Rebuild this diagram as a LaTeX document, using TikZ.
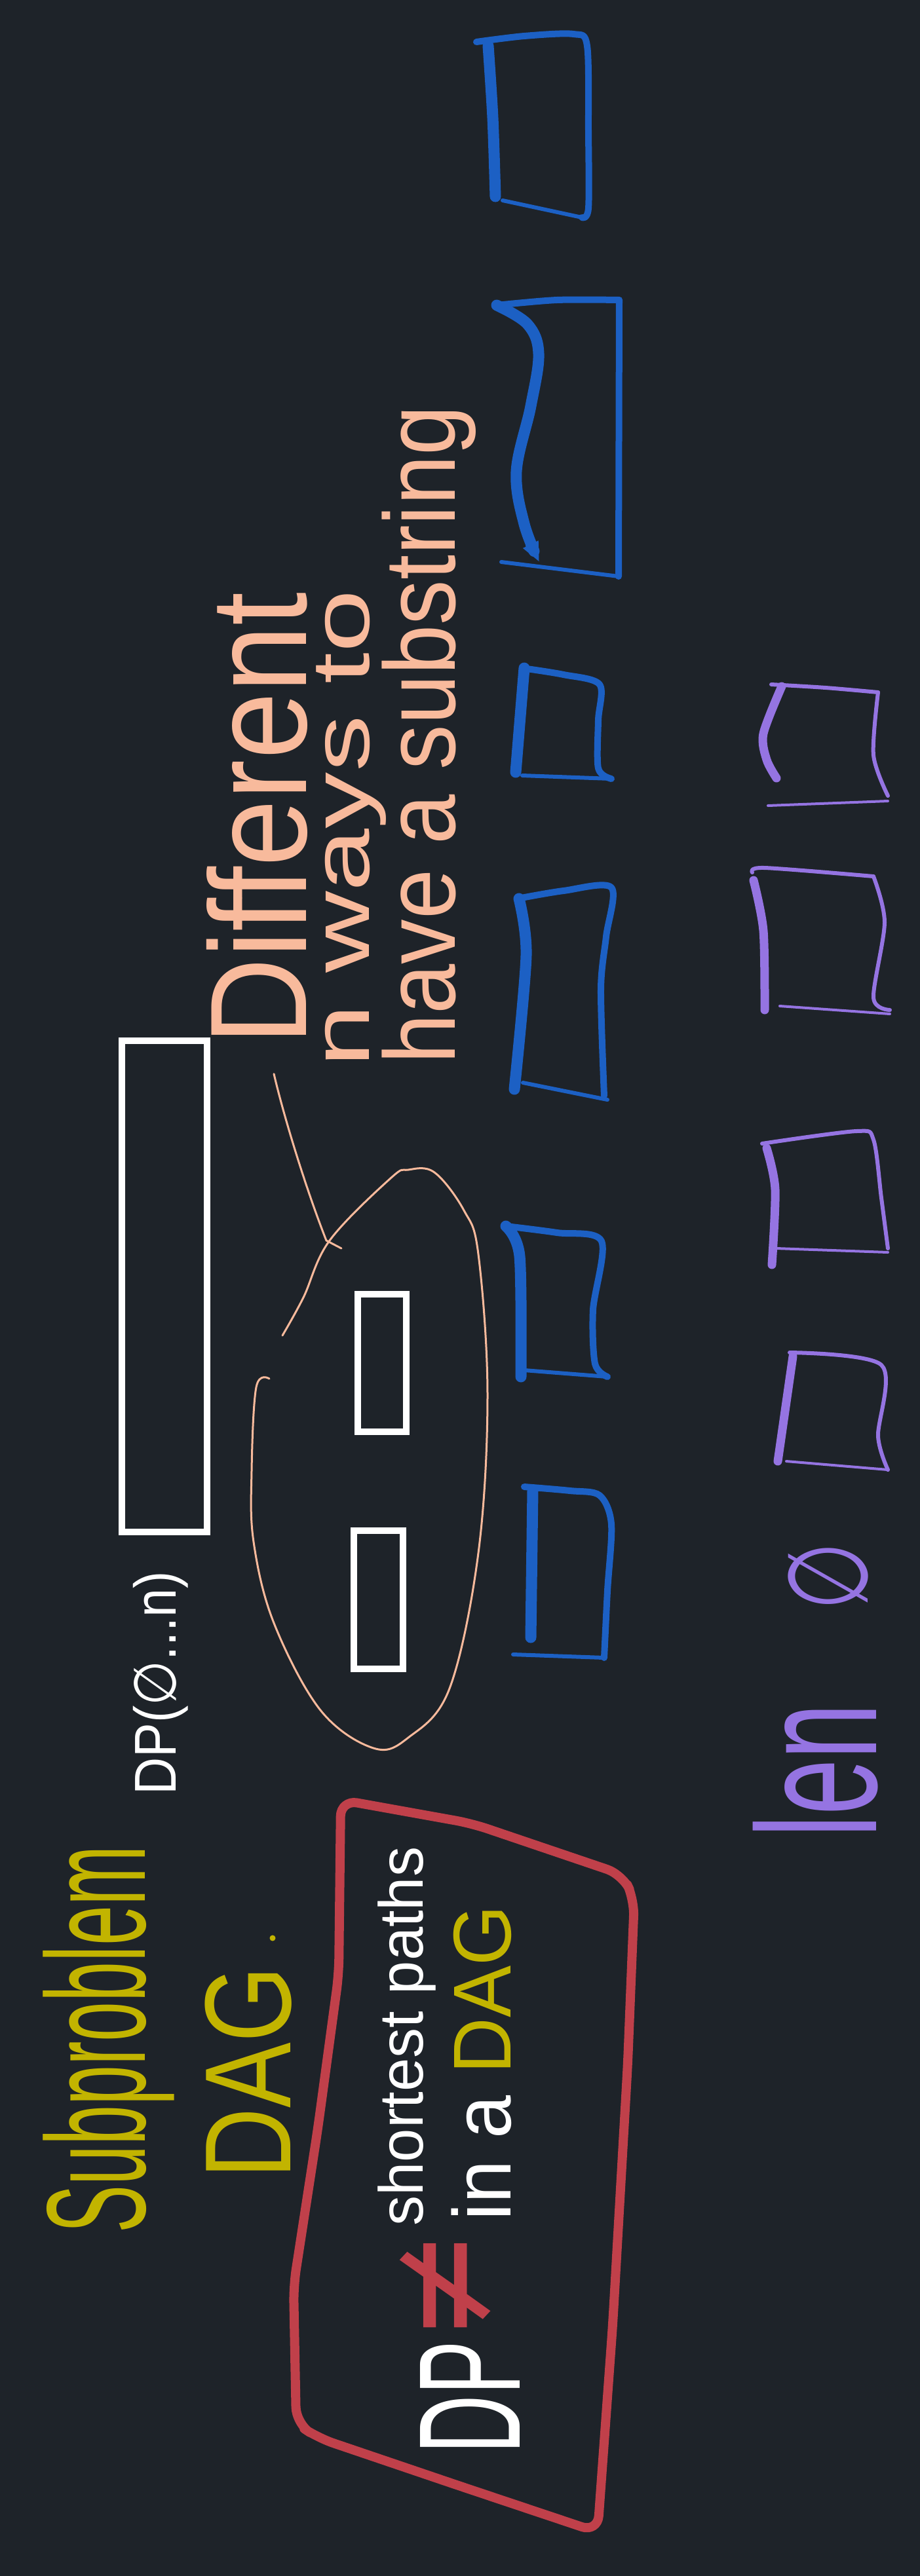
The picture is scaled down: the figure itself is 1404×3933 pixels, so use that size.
\documentclass[tikz,border=0pt]{standalone}
\usepackage{fontspec}
\setmainfont{Liberation Sans}
\newfontfamily\dejavu{DejaVu Sans}
\usetikzlibrary{arrows.meta}
\definecolor{bg}{HTML}{1E2329}
\definecolor{hyellow}{HTML}{C2B400}
\definecolor{hred}{HTML}{C0404A}
\definecolor{salmon}{HTML}{F8BA9C}
\definecolor{hblue}{HTML}{1C60C4}
\definecolor{hpurple}{HTML}{9574E2}
\begin{document}
\begin{tikzpicture}[x=1pt,y=-1pt,
  txt/.style={inner sep=0pt, outer sep=0pt, rotate=90, anchor=center},
  fs/.style={font=\fontsize{#1}{#1}\selectfont},
  fsd/.style={font=\dejavu\fontsize{#1}{#1}\selectfont},
  wbox/.style={draw=white, line width=10pt, inner sep=0pt, outer sep=0pt, rectangle},
  bthick/.style={draw=hblue, line width=17pt, line cap=round, line join=round},
  bmid/.style={draw=hblue, line width=10pt, line cap=round, line join=round},
  bthin/.style={draw=hblue, line width=6pt, line cap=round, line join=round},
  pthick/.style={draw=hpurple, line width=13pt, line cap=round, line join=round},
  pmid/.style={draw=hpurple, line width=6pt, line cap=round, line join=round},
  pthin/.style={draw=hpurple, line width=4pt, line cap=round, line join=round},
  redbox/.style={draw=hred, line width=14pt, line cap=round, line join=round, rounded corners=25pt},
  salm/.style={draw=salmon, line width=3pt, line cap=round, line join=round}
]
\fill[bg] (0,0) rectangle (1404,3933);
\useasboundingbox (0,0) rectangle (1404,3933);

% ---------- yellow title ----------
\node[txt, text=hyellow, fs=215, xscale=.51] (subp) at (166,3114) {Subproblem};
\node[txt, text=hyellow, fs=187, xscale=.8] (dagA) at (379,3164) {DAG};
\node[circle, fill=hyellow, inner sep=0pt, minimum size=9pt] (dagdot) at (416,2959) {};

% ---------- red box ----------
\draw[redbox] (720,2784) -- (950,2862) -- (968,2900) -- (958,3150)
  -- (935,3550) -- (912,3866) -- (700,3795) -- (485,3722) -- (452,3700)
  -- (448,3490) -- (485,3250) -- (517,3014) -- (520,2748) -- cycle;
\node[txt, text=white, fs=221, xscale=.56] (dp) at (717,3660) {DP};
\node[txt, text=hred, fsd=205, yscale=1.15] (neq) at (682,3490) {≠};
\node[txt, text=white, fs=95, xscale=.97] (sp) at (621,3109) {shortest paths};
\node[txt, text=white, fs=125, xscale=.95] (inadag) at (735,3150) {in a \textcolor{hyellow}{DAG}};

% ---------- white rectangles ----------
\node[wbox, minimum width=130pt, minimum height=750pt] (bigrect) at (250.5,1963.5) {};
\node[txt, text=white, fs=90, xscale=.88] (dpn) at (245,2570) {DP({\dejavu ∅}...n)};
\node[wbox, minimum width=74pt, minimum height=210pt] (small1) at (583,2081) {};
\node[wbox, minimum width=75pt, minimum height=211pt] (small2) at (577.5,2442.5) {};

% ---------- salmon blob and note ----------
\draw[salm] plot[smooth, tension=0.6] coordinates {(411,2105) (391,2118) (384,2246) (387,2354) (418,2478) (489,2611) (570,2669) (623,2653) (686,2578) (730,2371) (744,2130) (730,1915) (708,1848) (663,1790) (623,1786) (596,1799) (503,1894) (463,1981) (431,2039)};
\coordinate (blobtop) at (498,1894);
\node[txt, text=salmon, fs=210, xscale=.875] (diff) at (392,1250) {Different};
\node[txt, text=salmon, fs=125, xscale=1.38] (nways) at (536,1265) {n ways to};
\node[txt, text=salmon, fs=154, xscale=.89] (have) at (655,1122) {have a substring};
\draw[salm] ([shift={(26,44)}]diff.west) .. controls (432,1700) and (465,1810) .. (blobtop) -- ++(23,12);

% ---------- blue boxes ----------
\draw[bthick] plot[smooth] coordinates {(745,70) (752,180) (756,300)};
\draw[bmid] plot[smooth, tension=.5] coordinates {(727,64) (800,55) (875,52) (896,70) (898,200) (898,318) (888,332)};
\draw[bthin] (888,332) -- (767,306);

\draw[bmid] plot[smooth, tension=.5] coordinates {(758,466) (850,458) (945,458)};
\draw[bmid] (945,458) -- (944,880);
\draw[bthin] (944,880) -- (765,858);
\draw[bthick, -{Triangle[length=30pt,width=24pt]}] plot[smooth, tension=.6] coordinates {(758,466) (805,495) (822,540) (810,620) (788,720) (800,800) (823,858)};

\draw[bthick] (800,1020) -- (787,1179);
\draw[bmid] plot[smooth] coordinates {(797,1020) (860,1030) (915,1045) (913,1100) (913,1173) (933,1189)};
\draw[bthin] (933,1189) -- (797,1184);

\draw[bthick] plot[smooth] coordinates {(792,1372) (803,1459) (785,1663)};
\draw[bmid] plot[smooth] coordinates {(790,1372) (860,1360) (933,1355) (925,1430) (917,1510) (922,1673)};
\draw[bthin] (927,1679) -- (798,1653);

\draw[bthick] plot[smooth] coordinates {(772,1872) (793,1918) (795,2102)};
\draw[bmid] plot[smooth] coordinates {(772,1872) (850,1882) (918,1895) (905,2000) (908,2082) (927,2102)};
\draw[bthin] (927,2102) -- (800,2092);

\draw[bthick] (813,2276) -- (810,2500);
\draw[bmid] plot[smooth] coordinates {(800,2270) (870,2276) (915,2283) (933,2327) (927,2429) (922,2531)};
\draw[bthin] (922,2531) -- (783,2526);

% ---------- purple boxes ----------
\draw[pthick] plot[smooth] coordinates {(1193,1048) (1165,1120) (1170,1160) (1185,1188)};
\draw[pmid] plot[smooth] coordinates {(1177,1045) (1260,1050) (1340,1057)};
\draw[pmid] plot[smooth] coordinates {(1340,1057) (1333,1153) (1355,1215)};
\draw[pthin] (1355,1223) -- (1172,1230);

\draw[pthick] plot[smooth] coordinates {(1150,1344) (1165,1421) (1167,1542)};
\draw[pmid] plot[smooth] coordinates {(1148,1332) (1167,1325) (1333,1338)};
\draw[pmid] plot[smooth] coordinates {(1333,1338) (1350,1408) (1333,1523) (1358,1542)};
\draw[pthin] (1358,1548) -- (1190,1536);

\draw[pthick] plot[smooth] coordinates {(1170,1753) (1183,1816) (1178,1931)};
\draw[pmid] plot[smooth] coordinates {(1163,1746) (1307,1727) (1333,1740) (1345,1829) (1355,1906)};
\draw[pthin] (1355,1912) -- (1185,1906);

\draw[pthick] (1210,2071) -- (1187,2231);
\draw[pmid] plot[smooth] coordinates {(1205,2065) (1345,2084) (1340,2193) (1355,2244)};
\draw[pthin] (1355,2244) -- (1200,2231);

\node[txt, text=hpurple, fsd=170, xscale=.7] (empty) at (1264,2407) {∅};
\node[txt, text=hpurple, fs=260, xscale=.59] (len) at (1245,2703) {len};
\end{tikzpicture}
\end{document}
